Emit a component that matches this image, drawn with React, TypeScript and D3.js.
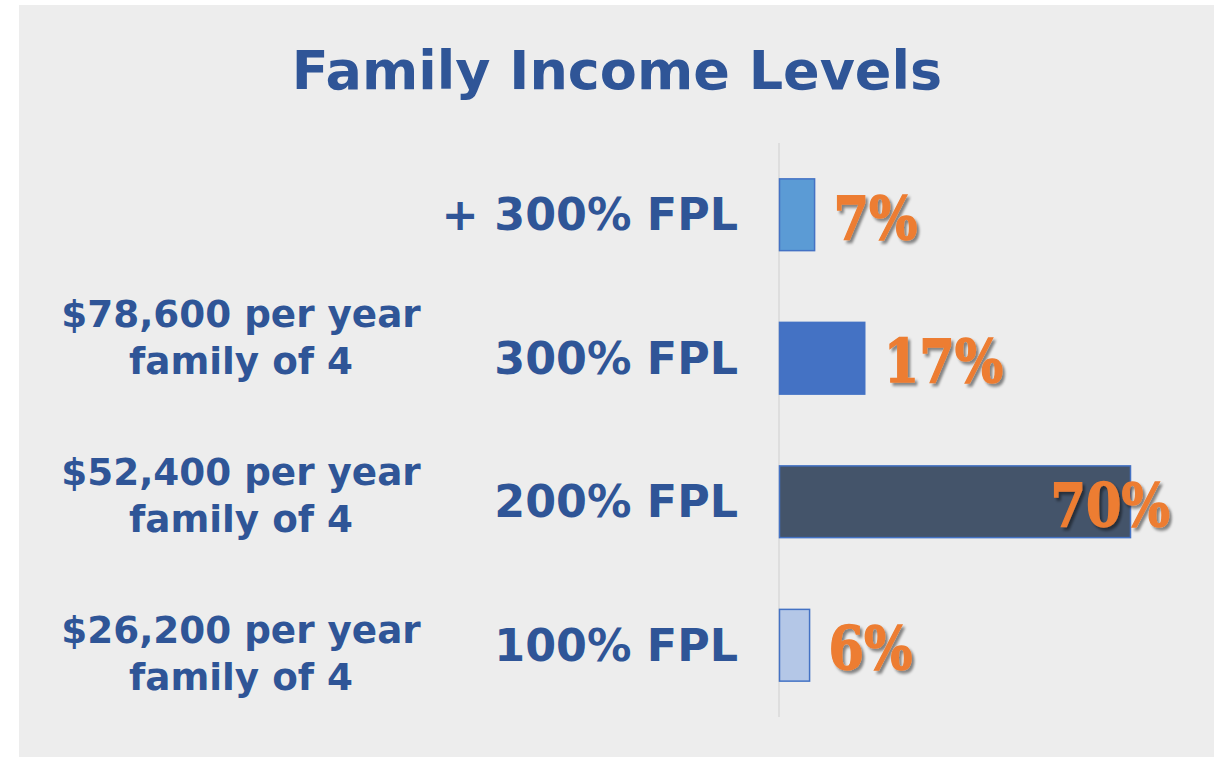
import React, { useEffect, useRef } from "react";
import * as d3 from "d3";

const title = "Family Income Levels";
const categories = ["+ 300% FPL", "300% FPL", "200% FPL", "100% FPL"];
const values = [7, 17, 70, 6];
const valueLabels = ["7%", "17%", "70%", "6%"];
const barColors = ["#5B9BD5", "#4472C4", "#44546A", "#B4C7E7"];
const incomeCategories = ["300% FPL", "200% FPL", "100% FPL"];
const incomeLine1 = ["$78,600 per year", "$52,400 per year", "$26,200 per year"];
const incomeLine2 = ["family of 4", "family of 4", "family of 4"];

const W = 1221;
const H = 757;
const TEXT_BLUE = "#2F5597";
const ORANGE = "#ED7D31";

export default function App() {
  const ref = useRef<SVGSVGElement>(null);

  useEffect(() => {
    const svg = d3.select(ref.current);
    svg.selectAll("*").remove();

    const defs = svg.append("defs");
    const f = defs.append("filter").attr("id", "shadow").attr("x", "-20%").attr("y", "-20%").attr("width", "140%").attr("height", "140%");
    f.append("feDropShadow")
      .attr("dx", 2.5)
      .attr("dy", 2.5)
      .attr("stdDeviation", 1.2)
      .attr("flood-color", "#000")
      .attr("flood-opacity", 0.45);

    svg.append("rect").attr("x", 0).attr("y", 0).attr("width", W).attr("height", H).attr("fill", "#ffffff");
    svg.append("rect").attr("x", 19).attr("y", 5).attr("width", 1195).attr("height", 752).attr("fill", "#EDEDED");

    svg
      .append("text")
      .attr("x", 617)
      .attr("y", 89)
      .attr("text-anchor", "middle")
      .attr("font-family", "'DejaVu Sans', Verdana, sans-serif")
      .attr("font-weight", "bold")
      .attr("font-size", 54)
      .attr("fill", TEXT_BLUE)
      .text(title);

    const y = d3.scaleBand<string>().domain(categories).range([143, 717]).paddingInner(0.5).paddingOuter(0.25);
    const x = d3.scaleLinear().domain([0, 70]).range([779.5, 1130.5]);

    svg
      .append("line")
      .attr("x1", x(0) - 0.5)
      .attr("x2", x(0) - 0.5)
      .attr("y1", 143)
      .attr("y2", 717)
      .attr("stroke", "#D9D9D9")
      .attr("stroke-width", 1.5);

    const data = categories.map((c, i) => ({ c, v: values[i], label: valueLabels[i], color: barColors[i] }));

    svg
      .append("g")
      .selectAll("rect")
      .data(data)
      .join("rect")
      .attr("x", x(0))
      .attr("y", (d) => y(d.c)!)
      .attr("width", (d) => x(d.v) - x(0))
      .attr("height", y.bandwidth())
      .attr("fill", (d) => d.color)
      .attr("stroke", "#4472C4")
      .attr("stroke-width", 1.5);

    svg
      .append("g")
      .selectAll("text")
      .data(data)
      .join("text")
      .attr("x", 738)
      .attr("y", (d) => y(d.c)! + y.bandwidth() / 2 + 15.5)
      .attr("text-anchor", "end")
      .attr("font-family", "'DejaVu Sans', Verdana, sans-serif")
      .attr("font-weight", "bold")
      .attr("font-size", 44.4)
      .attr("fill", TEXT_BLUE)
      .text((d) => d.c);

    // value labels
    const maxRight = 1170;
    const gap = 19;
    const yScale = 1.18;
    const vl = svg
      .append("g")
      .selectAll("text")
      .data(data)
      .join("text")
      .attr("transform", (d) => `translate(${x(d.v) + gap},${y(d.c)! + y.bandwidth() / 2 + 24}) scale(1,${yScale})`)
      .attr("text-anchor", "start")
      .attr("font-family", "'DejaVu Serif', serif")
      .attr("font-weight", "bold")
      .attr("font-size", 51)
      .attr("fill", ORANGE)
      .attr("stroke", ORANGE)
      .attr("stroke-width", 1.2)
      .attr("filter", "url(#shadow)")
      .text((d) => d.label);
    vl.each(function (d) {
      const el = this as SVGTextElement;
      const w = el.getComputedTextLength();
      if (x(d.v) + gap + w > maxRight) {
        d3.select(el)
          .attr("transform", `translate(${maxRight},${y(d.c)! + y.bandwidth() / 2 + 24}) scale(1,${yScale})`)
          .attr("text-anchor", "end");
      }
    });

    const iy = d3.scalePoint<string>().domain(incomeCategories).range([327, 643]);
    const ig = svg
      .append("g")
      .selectAll("text")
      .data(incomeCategories.map((c, i) => ({ c, l1: incomeLine1[i], l2: incomeLine2[i] })))
      .join("text")
      .attr("text-anchor", "middle")
      .attr("font-family", "'DejaVu Sans', Verdana, sans-serif")
      .attr("font-weight", "bold")
      .attr("font-size", 37.3)
      .attr("fill", TEXT_BLUE);
    ig.append("tspan").attr("x", 241).attr("y", (d) => iy(d.c)!).text((d) => d.l1);
    ig.append("tspan").attr("x", 241).attr("y", (d) => iy(d.c)! + 47).text((d) => d.l2);
  }, []);

  return <svg ref={ref} width={W} height={H} style={{ position: "absolute", left: 0, top: 0 }} />;
}
